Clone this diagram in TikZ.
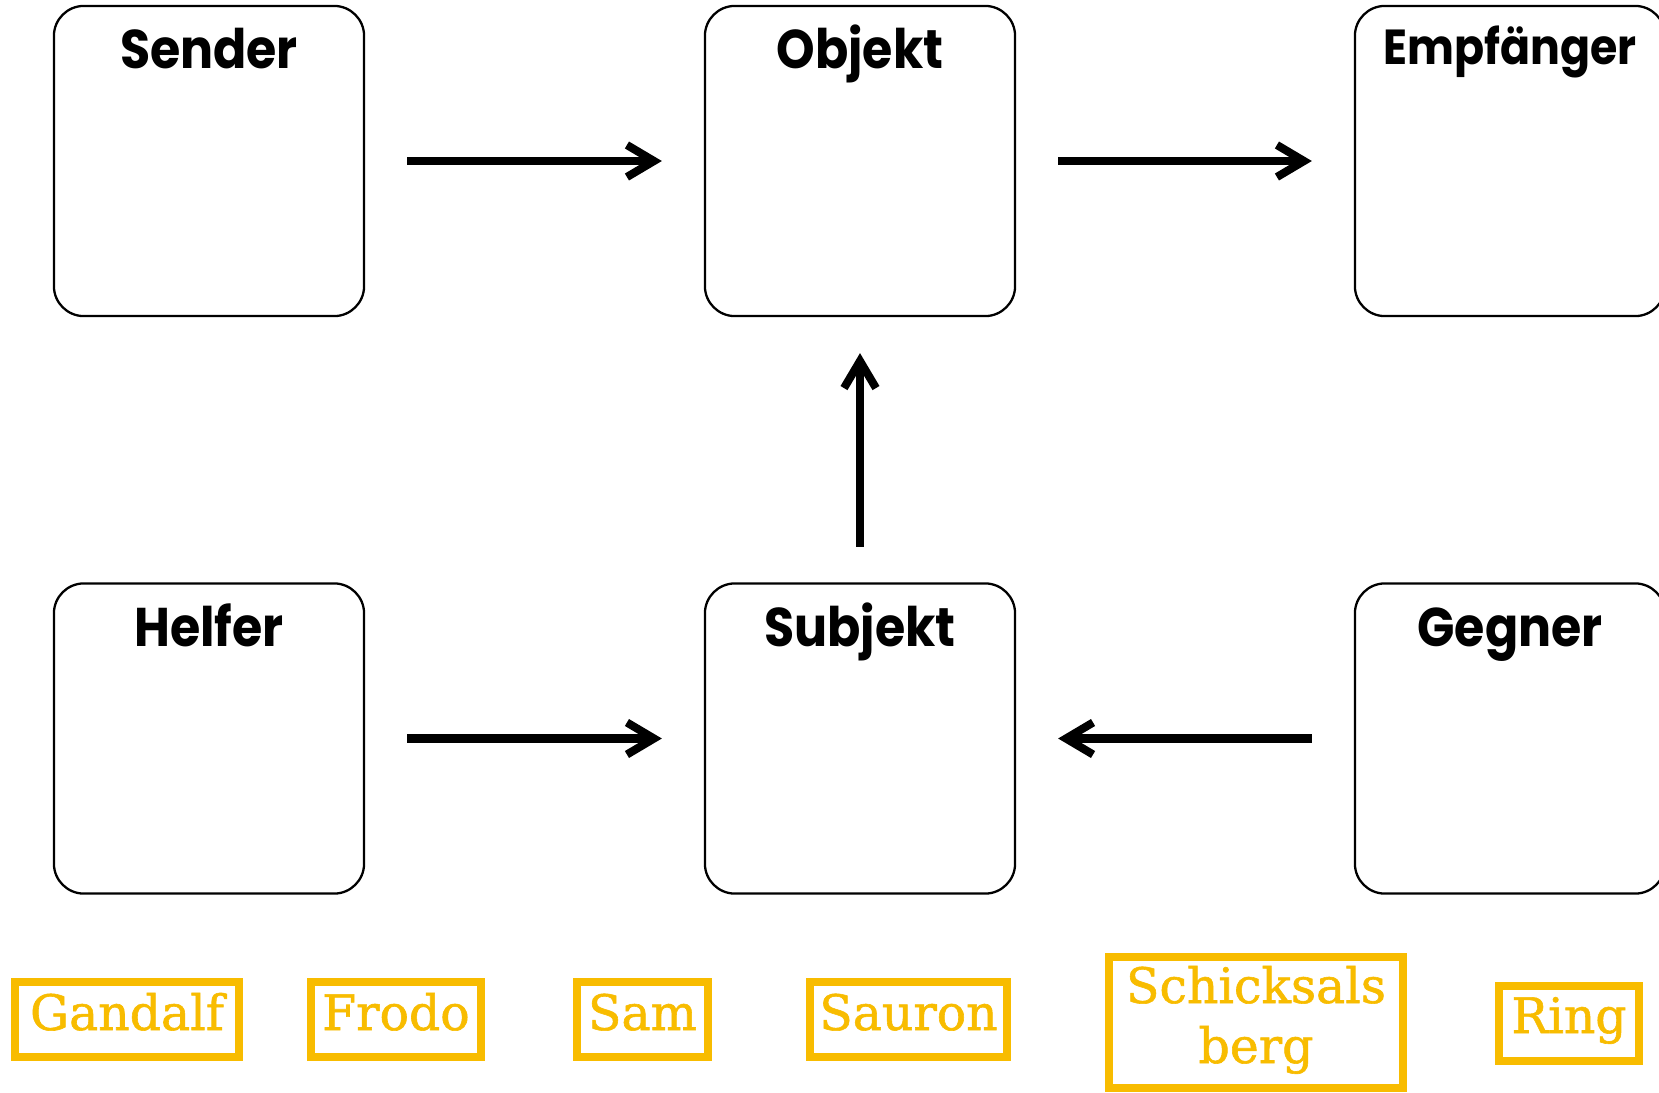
\documentclass[tikz,border=0pt]{standalone}
\usepackage{fontspec}
\setmainfont{DejaVu Serif}
\newfontfamily\tagfont{DejaVu Serif}[FakeBold=1.2]
\newfontfamily\titlefont{Poppins}[FakeStretch=0.9]
\usetikzlibrary{arrows.meta}
\definecolor{gold}{RGB}{248,188,0}
\begin{document}
\begin{tikzpicture}[x=0.01cm,y=-0.01cm,
  box/.style={draw=black, line width=0.65pt, rounded corners=0.3cm,
    minimum width=3.1cm, minimum height=3.1cm, outer sep=0pt, inner sep=0pt},
  title/.style={anchor=base, inner sep=0pt, font=\titlefont\bfseries\fontsize{15.5}{19}\selectfont},
  conn/.style={line width=2.3pt, -{Straight Barb[length=2.7mm,width=3.2mm]},
    shorten <=0.43cm, shorten >=0.43cm},
  vconn/.style={conn, shorten <=0.365cm, shorten >=0.37cm},
  tagbox/.style={draw=gold, line width=2.3pt, minimum height=0.75cm, inner sep=0pt, outer sep=0pt},
  tagtext/.style={anchor=base, inner sep=0pt, text=gold, font=\tagfont\fontsize{13.9}{17}\selectfont}]
\useasboundingbox (0,0) rectangle (1659,1093);
\clip (0,0) rectangle (1659,1093);
\fill[white] (0,0) rectangle (1659,1093);

% actant boxes
\node[box] (sender) at (209,161) {};
\node[box] (objekt) at (860,161) {};
\node[box] (empf) at (1510,161) {};
\node[box] (helfer) at (209,738.5) {};
\node[box] (subjekt) at (860,738.5) {};
\node[box] (gegner) at (1510,738.5) {};

\node[title] (senderT) at (209,68.5) {Sender};
\node[title] (objektT) at (860,68.5) {Objekt};
\node[title, font=\titlefont\bfseries\fontsize{14}{17}\selectfont] (empfT) at (1510,64) {Empfänger};
\node[title] (helferT) at (209,646.5) {Helfer};
\node[title] (subjektT) at (860,646.5) {Subjekt};
\node[title] (gegnerT) at (1510,646.5) {Gegner};

% connectors
\draw[conn] (sender.east) -- (objekt.west);
\draw[conn] (objekt.east) -- (empf.west);
\draw[conn] (helfer.east) -- (subjekt.west);
\draw[conn] (gegner.west) -- (subjekt.east);
\draw[vconn] (subjekt.north) -- (objekt.south);

% name tags
\node[tagbox, minimum width=2.24cm] (gandalf) at (127,1019.5) {};
\node[tagtext] (gandalfT) at (127,1030) {Gandalf};
\node[tagbox, minimum width=1.70cm] (frodo) at (396,1019.5) {};
\node[tagtext] (frodoT) at (396,1030) {Frodo};
\node[tagbox, minimum width=1.31cm] (sam) at (642.5,1019.5) {};
\node[tagtext] (samT) at (642.5,1030) {Sam};
\node[tagbox, minimum width=1.97cm] (sauron) at (908.5,1019.5) {};
\node[tagtext] (sauronT) at (908.5,1030) {Sauron};
\node[tagbox, minimum width=2.94cm, minimum height=1.31cm] (berg) at (1256,1022.5) {};
\node[tagtext] (bergT1) at (1256,1003) {Schicksals};
\node[tagtext] (bergT2) at (1256,1063) {berg};
\node[tagbox, minimum width=1.40cm] (ring) at (1569,1023.5) {};
\node[tagtext] (ringT) at (1569,1033) {Ring};
\end{tikzpicture}
\end{document}
